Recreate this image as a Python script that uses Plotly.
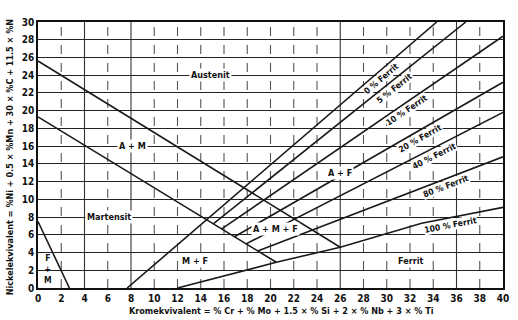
import math
import plotly.graph_objects as go

# ---------------- data ----------------
x_ticks = list(range(0, 41, 2))
y_ticks = list(range(0, 31, 2))

austenit_x = [0, 26.0]
austenit_y = [25.6, 4.6]
martensit_x = [0, 20.5]
martensit_y = [19.3, 2.9]
fm_x = [0, 2.7]
fm_y = [7.5, 0]

ferrite_pct = ["0", "5", "10", "20", "40", "80"]
ferrite_x0 = [7.67, 15.1, 15.8, 16.9, 17.9, 18.9]
ferrite_y0 = [0.0, 7.25, 6.66, 5.78, 4.98, 4.18]
ferrite_x1 = [34.3, 36.8, 40.0, 40.0, 40.0, 40.0]
ferrite_y1 = [30.0, 30.0, 28.4, 23.2, 19.8, 14.8]
ferrite_label_x = [29.2, 30.3, 31.4, 32.6, 33.8, 34.9]

f100_x = [12.0, 20.5, 26.0, 33.0, 40.0]
f100_y = [0.0, 2.9, 4.6, 7.3, 9.1]
f100_label_x = 35.4

region_names = ["Austenit", "A + M", "Martensit", "M + F", "A + F", "A + M + F", "Ferrit", "F<br>+<br>M"]
region_x = [14.8, 8.1, 6.1, 13.5, 26.0, 20.4, 32.0, 0.9]
region_y = [24.0, 16.0, 8.0, 3.0, 13.0, 6.6, 3.0, 2.1]

solid_vlines = [4, 8, 26, 36]

# ---------------- figure ----------------
W, H = 518, 320
ml, mr, mt, mb = 38, 9, 22, 32
pw, ph = W - ml - mr, H - mt - mb
sx, sy = pw / 40.0, ph / 30.0

FONT = "Liberation Sans Narrow, DejaVu Sans Condensed, Arial Narrow, sans-serif"
LINE = dict(color="#1a1a1a", width=1.6)

fig = go.Figure()

for xv in x_ticks[1:-1]:
    fig.add_shape(type="line", x0=xv, x1=xv, y0=0, y1=30, xref="x", yref="y",
                  line=dict(color="#333" if xv in solid_vlines else "#555",
                            width=1.1, dash="solid" if xv in solid_vlines else "dash"),
                  layer="below")

def add_line(xs, ys):
    fig.add_trace(go.Scatter(x=xs, y=ys, mode="lines", line=LINE,
                             hoverinfo="skip", showlegend=False))

add_line(austenit_x, austenit_y)
add_line(martensit_x, martensit_y)
add_line(fm_x, fm_y)
for i in range(len(ferrite_pct)):
    add_line([ferrite_x0[i], ferrite_x1[i]], [ferrite_y0[i], ferrite_y1[i]])
add_line(f100_x, f100_y)

def line_label(xl, xs, ys, text):
    for j in range(len(xs) - 1):
        if xs[j] <= xl <= xs[j + 1]:
            break
    m = (ys[j + 1] - ys[j]) / (xs[j + 1] - xs[j])
    yl = ys[j] + m * (xl - xs[j])
    ang = math.degrees(math.atan(m * sy / sx))
    d = 7
    a = math.radians(ang)
    fig.add_annotation(x=xl, y=yl, xref="x", yref="y", text=text, showarrow=False,
                       textangle=-ang, xshift=d * math.sin(a), yshift=-d * math.cos(a),
                       font=dict(family=FONT, size=8.5, color="#111", weight="bold"),
                       bgcolor="white", borderpad=0)

for i in range(len(ferrite_pct)):
    line_label(ferrite_label_x[i], [ferrite_x0[i], ferrite_x1[i]],
               [ferrite_y0[i], ferrite_y1[i]], ferrite_pct[i] + " % Ferrit")
line_label(f100_label_x, f100_x, f100_y, "100 % Ferrit")

for name, rx, ry in zip(region_names, region_x, region_y):
    fig.add_annotation(x=rx, y=ry, xref="x", yref="y", text=name, showarrow=False,
                       font=dict(family=FONT, size=9 if "<br>" not in name else 8.5,
                                 color="#111", weight="bold"),
                       bgcolor="white" if "<br>" not in name else "rgba(0,0,0,0)",
                       borderpad=1)

fig.add_annotation(x=(10 - ml) / pw, y=(mt + ph - 157) / ph, xref="paper", yref="paper",
                   xanchor="center", yanchor="middle",
                   text="Nickelekvivalent = %Ni + 0.5 × %Mn + 30 × %C + 11.5 × %N",
                   textangle=-90, showarrow=False,
                   font=dict(family=FONT, size=9, color="#111", weight="bold"))
fig.add_annotation(x=(285 - ml) / pw, y=(mt + ph - 311) / ph, xref="paper", yref="paper",
                   xanchor="center", yanchor="middle",
                   text="Kromekvivalent = % Cr + % Mo + 1.5 × % Si + 2 × % Nb + 3 × % Ti",
                   showarrow=False,
                   font=dict(family=FONT, size=9, color="#111", weight="bold"))

fig.update_layout(
    width=W, height=H, margin=dict(l=ml, r=mr, t=mt, b=mb),
    paper_bgcolor="white", plot_bgcolor="white",
    xaxis=dict(range=[0, 40], tickvals=x_ticks, ticktext=[str(v) for v in x_ticks],
               showgrid=False, zeroline=False, showline=True, mirror=True,
               linecolor="#111", linewidth=1.6, ticks="",
               tickfont=dict(family=FONT, size=10, color="#111", weight="bold")),
    yaxis=dict(range=[0, 30], tickvals=y_ticks, ticktext=[str(v) for v in y_ticks],
               showgrid=True, gridcolor="#222", gridwidth=1.2, zeroline=False,
               showline=True, mirror=True, linecolor="#111", linewidth=1.6, ticks="",
               tickfont=dict(family=FONT, size=10, color="#111", weight="bold")),
)

fig.write_html("out.html")
